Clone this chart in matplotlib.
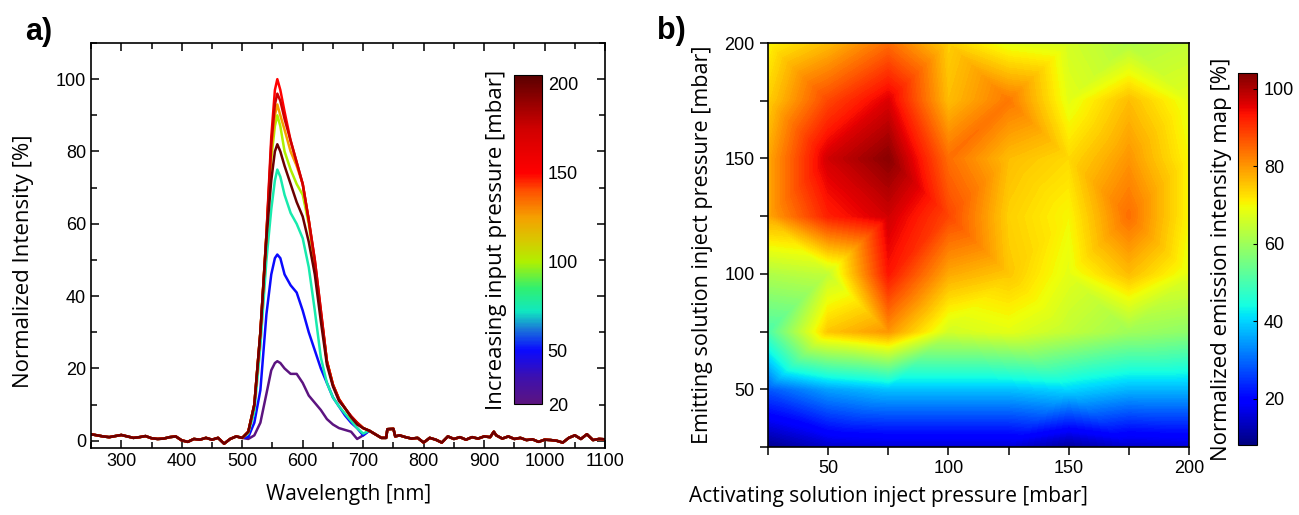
import numpy as np
import matplotlib
matplotlib.use('Agg')
from matplotlib import pyplot as plt
import matplotlib.tri as mtri
from matplotlib.cm import ScalarMappable
from matplotlib.colors import LinearSegmentedColormap, Normalize
from matplotlib.ticker import MultipleLocator

plt.rcParams['font.family'] = ['Liberation Sans', 'DejaVu Sans']

# ---- panel a: emission spectra, one per input pressure [mbar]
pressures = [20, 50, 75, 100, 125, 150, 175, 200]

base_left_wl = [250, 260, 270, 280, 290, 300, 310, 320, 330, 340, 350, 360, 370,
                380, 390, 400, 410, 420, 430, 440, 450, 460, 470, 480, 490]
base_left = [1.8, 1.5, 1.2, 1.0, 1.3, 1.6, 1.2, 0.8, 1.0, 1.3, 0.7, 0.5, 0.6,
             1.0, 1.2, 0.1, -0.3, 0.5, 0.3, 0.8, 0.3, 0.8, -0.8, 0.5, 1.2]

peak_wl = [500, 510, 520, 530, 540, 548, 554, 558, 563, 570, 580, 590, 600,
           610, 620, 630, 640, 650, 660, 670, 680, 690, 700]
peak_vals = [
    [0.8, 0.5, 1.5, 5, 13, 19.5, 21.5, 22, 21.5, 20, 18.5, 18.5, 16, 12.5, 10.5, 8.5, 6, 4.5, 3.5, 3, 2.5, 0.5, 1.5],
    [0.8, 1, 5, 14, 35, 46, 50.5, 51.5, 50.5, 46, 43, 41, 36, 30, 25, 20, 16, 12, 9.5, 7, 5, 3.5, 1.5],
    [0.8, 2, 8, 26, 50, 64, 72, 75, 73, 68, 63, 60, 56, 48, 36, 23, 16, 12, 9.5, 7.5, 5.5, 3.5, 2],
    [0.8, 2.5, 10, 30, 57, 78, 87, 90, 87, 80, 75, 71, 68, 60, 48, 35, 22, 15.5, 11.5, 9, 6.5, 5, 3.5],
    [0.8, 2.5, 10, 30, 57, 80, 90, 93, 90, 86, 80, 76, 71, 61, 49, 35, 22, 15.5, 11.5, 9, 6.5, 5, 3.5],
    [0.8, 2.5, 10, 30, 57, 84, 97, 100, 97, 91, 83, 77, 71, 61, 50, 36, 22, 15.5, 11.5, 9, 6.8, 5, 3.5],
    [0.8, 2.5, 10, 30, 57, 82, 93, 96, 94, 89, 83, 77, 71, 61, 50, 36, 22, 15.5, 11.5, 9, 6.8, 5, 3.5],
    [0.8, 2.5, 10, 30, 56, 72, 80, 82, 80, 76, 71, 66, 62, 55, 46, 33, 21, 15, 11, 9, 6.5, 4.5, 3.5],
]

tail_wl = [710, 720, 730, 738, 740, 750, 753, 760, 770, 780, 790, 800, 810, 820,
           830, 840, 850, 860, 870, 880, 890, 900, 910, 916, 920, 930, 940, 950,
           960, 970, 980, 990, 1000, 1010, 1020, 1030, 1040, 1050, 1060, 1070,
           1080, 1090, 1100]
tail_vals = [2.8, 1.8, 0.8, 0.8, 3.2, 3.3, 1.2, 1.5, 1.0, 0.6, 0.8, -0.5, 0.8, 0.3,
             -0.5, 1.2, 0.5, 1.0, 0.3, 1.0, 0.6, 1.2, 1.0, 2.5, 1.5, 0.6, 1.2, 0.5,
             0.8, 0.2, 0.4, -0.3, 0.3, 0.2, 0.0, -0.5, 0.8, 1.5, 0.5, 1.8,
             0.2, 0.5, 0.4]

# colour scale of the pressure bar
press_nodes = [20, 35, 50, 62, 72, 85, 100, 112, 125, 140, 150, 175, 205]
press_colors = ['#5c1480', '#3c10b0', '#0a0aff', '#1a78d8', '#10e8c0', '#30f070', '#b0f000',
                '#d8c800', '#f5a000', '#ff5000', '#ff0000', '#d00000', '#5a0000']

# ---- panel b: intensity map on the pressure grid (rows = emitting, cols = activating)
act_p = [25, 50, 75, 100, 125, 150, 175, 200]
emit_p = [25, 50, 75, 100, 125, 150, 175, 200]
intensity = [
    [9, 14, 15, 15, 15, 10, 14, 15],
    [28, 35, 38, 38, 38, 40, 37, 37],
    [50, 75, 80, 66, 68, 64, 60, 58],
    [62, 64, 93, 78, 75, 68, 76, 68],
    [78, 92, 97, 88, 74, 70, 84, 70],
    [78, 97, 103, 84, 76, 73, 80, 70],
    [74, 88, 96, 76, 83, 68, 76, 68],
    [70, 76, 84, 74, 68, 66, 62, 64],
]

tick_fs = 13
label_font = ['Open Sans', 'DejaVu Sans']

fig = plt.figure(figsize=(12.99, 5.15), dpi=100)

# ---------------- a)
ax = fig.add_axes([0.0701, 0.1301, 0.3957, 0.7864])
lo, hi = press_nodes[0], press_nodes[-1]
cmap_p = LinearSegmentedColormap.from_list(
    'press', [((v - lo) / (hi - lo), c) for v, c in zip(press_nodes, press_colors)])
norm_p = Normalize(lo, hi)

for p, vals in zip(pressures, peak_vals):
    wl = base_left_wl + peak_wl + tail_wl
    y = base_left + vals + tail_vals
    ax.plot(wl, y, color=cmap_p(norm_p(p)), lw=1.8)

ax.set_xlim(250, 1100)
ax.set_ylim(-2, 110)
ax.xaxis.set_major_locator(MultipleLocator(100))
ax.xaxis.set_minor_locator(MultipleLocator(50))
ax.yaxis.set_major_locator(MultipleLocator(20))
ax.yaxis.set_minor_locator(MultipleLocator(10))
ax.tick_params(which='both', direction='in', top=True, right=True, labelsize=tick_fs, width=1.1)
ax.tick_params(which='major', length=6)
ax.tick_params(which='minor', length=4)
for s in ax.spines.values():
    s.set_linewidth(1.2)
ax.set_xlabel('Wavelength [nm]', fontsize=15, family=label_font, labelpad=10)
ax.set_ylabel('Normalized Intensity [%]', fontsize=16, family=label_font)
ax.yaxis.set_label_coords(-0.111, 0.46)

cax = fig.add_axes([0.3957, 0.2155, 0.0216, 0.6388])
cb = fig.colorbar(ScalarMappable(norm=norm_p, cmap=cmap_p), cax=cax, ticks=[20, 50, 100, 150, 200])
cb.outline.set_linewidth(0.8)
cax.tick_params(length=0, labelsize=tick_fs, pad=4)
cax.yaxis.set_label_position('left')
cb.set_label('Increasing input pressure [mbar]', fontsize=16, family=label_font, labelpad=5)

fig.text(0.030, 0.938, 'a)', fontsize=22, fontweight='bold', ha='center', va='center')

# ---------------- b)
bx = fig.add_axes([0.5912, 0.1320, 0.3241, 0.7845])
gx, gy = np.meshgrid(act_p, emit_p)
tri = mtri.Triangulation(gx.ravel(), gy.ravel())
levels = np.linspace(8, 104, 193)
cs = bx.tricontourf(tri, np.array(intensity).ravel(), levels=levels, cmap='jet', antialiased=False)
bx.set_xlim(25, 200)
bx.set_ylim(25, 200)
bx.xaxis.set_major_locator(MultipleLocator(50))
bx.xaxis.set_minor_locator(MultipleLocator(25))
bx.yaxis.set_major_locator(MultipleLocator(50))
bx.yaxis.set_minor_locator(MultipleLocator(25))
bx.tick_params(which='both', direction='out', length=6, width=1.1, labelsize=tick_fs)
for s in bx.spines.values():
    s.set_linewidth(1.2)
bx.set_xlabel('Activating solution inject pressure [mbar]', fontsize=15, family=label_font)
bx.xaxis.set_label_coords(0.287, -0.097)
bx.set_ylabel('Emitting solution inject pressure [mbar]', fontsize=15.5, family=label_font, labelpad=8)

cbx = fig.add_axes([0.9530, 0.1359, 0.0146, 0.7223])
cb2 = fig.colorbar(ScalarMappable(norm=Normalize(8, 104), cmap='jet'), cax=cbx, ticks=[20, 40, 60, 80, 100])
cb2.outline.set_linewidth(0.8)
cbx.tick_params(length=3, direction='in', labelsize=tick_fs, pad=5)
cbx.yaxis.set_label_position('left')
cb2.set_label('Normalized emission intensity map [%]', fontsize=16, family=label_font, labelpad=4)

fig.text(0.517, 0.94, 'b)', fontsize=22, fontweight='bold', ha='center', va='center')

fig.savefig('out.png', dpi=100)
